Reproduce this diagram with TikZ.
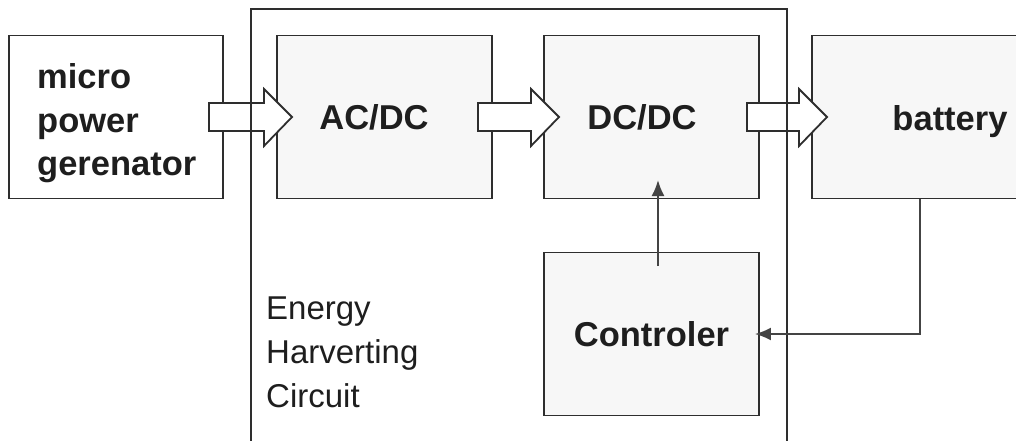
\documentclass[tikz,border=0pt]{standalone}
\usepackage{fontspec}
\setmainfont{Liberation Sans}
\usetikzlibrary{arrows.meta}
\definecolor{boxfill}{HTML}{F7F7F7}
\definecolor{edge}{HTML}{2E2E2E}
\definecolor{txt}{HTML}{1E1E1E}
\definecolor{thinc}{HTML}{444444}
\newcommand\fatarrow[3]{\draw[fat] (#1,103) -- (#2,103) -- (#2,89) -- (#3,117) -- (#2,146) -- (#2,131) -- (#1,131) -- cycle;}
\begin{document}
\begin{tikzpicture}[x=1pt,y=-1pt,
  blk/.style={draw=edge, line width=1.8pt, fill=boxfill, minimum width=215pt, minimum height=163pt, inner sep=0pt, font=\bfseries\fontsize{34.5}{43}\selectfont, text=txt},
  bold/.style={font=\bfseries\fontsize{34.5}{43}\selectfont, text=txt, inner sep=0pt},
  fat/.style={draw=edge, line width=1.8pt, fill=white, line join=miter},
  thinarr/.style={draw=thinc, line width=2pt, -{Latex[length=16pt,width=13pt]}},
  frame/.style={draw=edge, line width=1.8pt}]
\useasboundingbox (0,0) rectangle (1016,441);
\fill[white] (0,0) rectangle (1016,441);
\node[blk, fill=white, minimum width=214pt] (micro) at (116,117) {};
\node[bold, anchor=base west, align=left] (microl) at (37,175) {micro\\power\\gerenator};
\node[blk] (acdc) at (384.5,117) {AC/DC\hspace*{21pt}};
\node[blk] (dcdc) at (651.5,117) {DC/DC\hspace*{19pt}};
\node[blk] (batt) at (919.5,117) {};
\node[bold, anchor=base] (battl) at (950,130) {battery};
\node[blk] (ctrl) at (651.5,334) {Controler};
\fatarrow{209}{264}{292}
\fatarrow{478}{531}{559}
\fatarrow{747}{799}{827}
\coordinate (f1) at (251,450);
\coordinate (f2) at (251,9);
\coordinate (f3) at (787,9);
\coordinate (f4) at (787,450);
\draw[frame] (f1) -- (f2) -- (f3) -- (f4);
\node[anchor=base west, align=left, font=\fontsize{33}{44}\selectfont, text=txt, inner sep=0pt] (ehc) at (266,407) {Energy\\Harverting\\Circuit};
\coordinate (c1) at (658,266);
\coordinate (c2) at (658,180);
\draw[thinarr] (c1) -- (c2);
\draw[thinarr, shorten >=-5pt] (batt.south) |- (ctrl.east);
\end{tikzpicture}
\end{document}
